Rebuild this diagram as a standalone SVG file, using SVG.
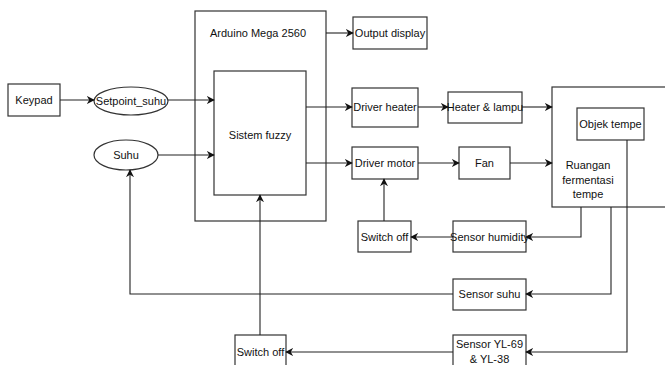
<svg xmlns="http://www.w3.org/2000/svg" width="665" height="365" viewBox="0 0 665 365">
<style>
rect,ellipse{fill:#fff;stroke:#333;stroke-width:1.2}
text{font-family:"Liberation Sans",Arial,sans-serif;font-size:11px;fill:#111;text-anchor:middle;dominant-baseline:central}
.c path{fill:none;stroke:#222;stroke-width:1.1;marker-end:url(#a)}
</style>
<defs>
<marker id="a" viewBox="0 0 10 10" refX="9" refY="5" markerWidth="8" markerHeight="8" markerUnits="userSpaceOnUse" orient="auto">
<path d="M0,0 L10,5 L0,10 L3,5 Z" fill="#111"/>
</marker>
</defs>
<rect width="665" height="365" style="fill:#fff;stroke:none"/>
<g id="arduino"><rect x="195" y="11" width="131" height="210"/><text x="258" y="33">Arduino Mega 2560</text></g>
<g id="fuzzy"><rect x="214" y="71" width="92" height="124"/><text x="260" y="135">Sistem fuzzy</text></g>
<g id="keypad"><rect x="8" y="84" width="52" height="32"/><text x="34" y="100">Keypad</text></g>
<g id="setpoint"><ellipse cx="131" cy="101" rx="37" ry="14"/><text x="131" y="101">Setpoint_suhu</text></g>
<g id="suhu"><ellipse cx="126" cy="155" rx="32" ry="15"/><text x="126" y="155">Suhu</text></g>
<g id="output"><rect x="353" y="17" width="74" height="32"/><text x="390" y="33">Output display</text></g>
<g id="driverheater"><rect x="352" y="88" width="66" height="39"/><text x="385" y="107">Driver heater</text></g>
<g id="heater"><rect x="448" y="92" width="74" height="31"/><text x="485" y="107">Heater &amp; lampu</text></g>
<g id="drivermotor"><rect x="352" y="147" width="66" height="32"/><text x="385" y="163">Driver motor</text></g>
<g id="fan"><rect x="459" y="147" width="51" height="32"/><text x="484.5" y="163">Fan</text></g>
<g id="ruangan"><rect x="552" y="87" width="120" height="120"/><text x="588" y="165">Ruangan</text><text x="588" y="180">fermentasi</text><text x="588" y="194">tempe</text></g>
<g id="objek"><rect x="577" y="108" width="67" height="32"/><text x="610.5" y="124">Objek tempe</text></g>
<g id="switch1"><rect x="358" y="221" width="53" height="31"/><text x="384.5" y="237">Switch off</text></g>
<g id="humidity"><rect x="453" y="221" width="73" height="31"/><text x="489.5" y="237">Sensor humidity</text></g>
<g id="sensorsuhu"><rect x="453" y="279" width="73" height="31"/><text x="489.5" y="294">Sensor suhu</text></g>
<g id="yl69"><rect x="453" y="335" width="73" height="35"/><text x="489.5" y="344">Sensor YL-69</text><text x="489.5" y="359">&amp; YL-38</text></g>
<g id="switch2"><rect x="235" y="335" width="51" height="35"/><text x="260.5" y="352">Switch off</text></g>
<g class="c" id="connectors">
<path d="M60,100 H94"/>
<path d="M168,100 H214"/>
<path d="M158,155 H214"/>
<path d="M326,33 H353"/>
<path d="M306,107 H352"/>
<path d="M418,107 H448"/>
<path d="M522,107 H552"/>
<path d="M306,163 H352"/>
<path d="M418,163 H459"/>
<path d="M510,163 H552"/>
<path d="M384,221 V179"/>
<path d="M453,237 H411"/>
<path d="M581,207 V237 H526"/>
<path d="M611,207 V294 H526"/>
<path d="M453,294 H130 V170"/>
<path d="M627,140 V352 H526"/>
<path d="M453,352 H286"/>
<path d="M260,335 V195"/>
</g>
</svg>
